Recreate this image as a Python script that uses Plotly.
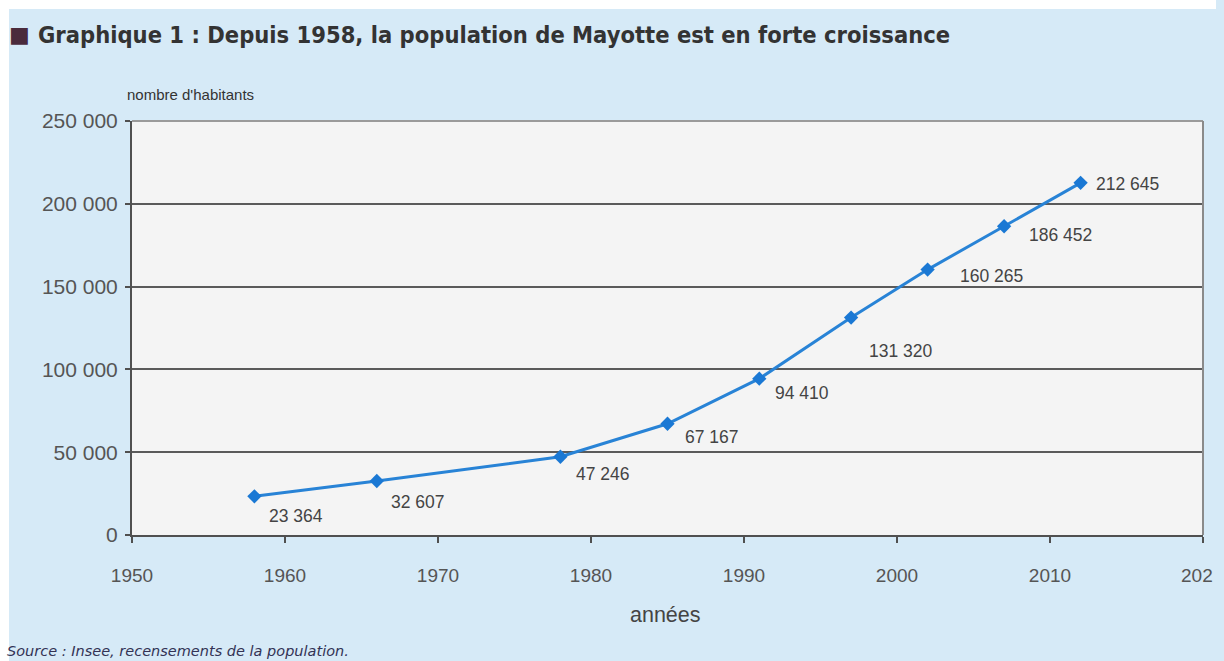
import plotly.graph_objects as go

years = [1958, 1966, 1978, 1985, 1991, 1997, 2002, 2007, 2012]
population = [23364, 32607, 47246, 67167, 94410, 131320, 160265, 186452, 212645]
labels = ["23 364", "32 607", "47 246", "67 167", "94 410", "131 320", "160 265", "186 452", "212 645"]
label_dx = [13, 12, 14, 15, 14, 16, 30, 23, 13]
label_dy = [-20, -21, -17, -13, -14, -33, -6, -9, -1]

y_ticks = [0, 50000, 100000, 150000, 200000, 250000]
y_ticklabels = ["0", "50 000", "100 000", "150 000", "200 000", "250 000"]
x_ticks = [1950, 1960, 1970, 1980, 1990, 2000, 2010, 2020]
x_ticklabels = ["1950", "1960", "1970", "1980", "1990", "2000", "2010", ""]
x_last_label = "202"  # last tick label, cut at the right edge in the source image

BG = "#d6eaf7"
W, H = 1216, 661
L, R, T, B = 132, 1216 - 1203, 121, 661 - 535
pw, ph = W - L - R, H - T - B


def px(xpage):
    return (xpage - L) / pw


def py(ypage):
    return 1 - (ypage - T) / ph


fig = go.Figure()
fig.add_trace(go.Scatter(
    x=years, y=population, mode="lines+markers",
    line=dict(color="#2883d6", width=3),
    marker=dict(symbol="diamond", size=11, color="#1a78d4"),
    hoverinfo="skip", showlegend=False,
))

for xv, yv, t, dx, dy in zip(years, population, labels, label_dx, label_dy):
    fig.add_annotation(x=xv, y=yv, text=t, showarrow=False, xanchor="left", yanchor="middle",
                       xshift=dx, yshift=dy, font=dict(family="Liberation Sans", size=17.5, color="#444444"))

font_main = "Liberation Sans"
fig.update_layout(
    width=W, height=H,
    margin=dict(l=L, r=R, t=T, b=B),
    paper_bgcolor=BG,
    plot_bgcolor="#f4f4f4",
    xaxis=dict(range=[1950, 2020], tickvals=x_ticks, ticktext=x_ticklabels, showgrid=False,
               zeroline=False, showline=True, linecolor="#505050", linewidth=2,
               ticks="outside", ticklen=6, tickwidth=2, tickcolor="#505050",
               ticklabelstandoff=16,
               tickfont=dict(family=font_main, size=19, color="#555555")),
    yaxis=dict(range=[0, 250000], tickvals=y_ticks, ticktext=y_ticklabels, showgrid=True,
               gridcolor="#5a5a5a", gridwidth=2, zeroline=False, showline=True,
               linecolor="#505050", linewidth=2, ticks="outside", ticklen=5, tickwidth=2,
               tickcolor="#505050", ticklabelstandoff=3,
               tickfont=dict(family=font_main, size=21, color="#555555")),
    shapes=[
        dict(type="line", xref="paper", yref="paper", x0=0, x1=1, y0=1, y1=1,
             line=dict(color="#9a9a9a", width=2), layer="above"),
        dict(type="line", xref="paper", yref="paper", x0=1, x1=1, y0=0, y1=1,
             line=dict(color="#8a8a8a", width=2), layer="above"),
        # white strips at top and left of the page
        dict(type="rect", xref="paper", yref="paper", x0=px(0), x1=px(W),
             y0=py(9), y1=py(0), fillcolor="white", line=dict(width=0), layer="below"),
        dict(type="rect", xref="paper", yref="paper", x0=px(0), x1=px(9),
             y0=py(H), y1=py(0), fillcolor="white", line=dict(width=0), layer="below"),
    ],
    annotations=list(fig.layout.annotations) + [
        dict(text=x_last_label, xref="x", yref="paper", x=x_ticks[-1], y=py(575),
             xanchor="right", yanchor="middle", xshift=12, showarrow=False,
             font=dict(family=font_main, size=19, color="#555555")),
        dict(text="<b>■</b>", xref="paper", yref="paper", x=px(7), y=py(35),
             xanchor="left", yanchor="middle", showarrow=False,
             font=dict(family="DejaVu Sans", size=22, color="#4a2b3c")),
        dict(text="<b>Graphique 1 : Depuis 1958, la population de Mayotte est en forte croissance</b>",
             xref="paper", yref="paper", x=px(36), y=py(35),
             xanchor="left", yanchor="middle", showarrow=False,
             font=dict(family="DejaVu Sans Condensed", size=23.5, color="#333333")),
        dict(text="nombre d'habitants", xref="paper", yref="paper", x=px(125), y=py(95),
             xanchor="left", yanchor="middle", showarrow=False,
             font=dict(family=font_main, size=15, color="#333333")),
        dict(text="années", xref="paper", yref="paper", x=px(665), y=py(615),
             xanchor="center", yanchor="middle", showarrow=False,
             font=dict(family=font_main, size=21.5, color="#444444")),
        dict(text="<i>Source : Insee, recensements de la population.</i>", xref="paper", yref="paper",
             x=px(5), y=py(651), xanchor="left", yanchor="middle", showarrow=False,
             font=dict(family="DejaVu Sans", size=14.5, color="#333355")),
    ],
)

fig.write_html(
    "out.html",
    config={"displayModeBar": False},
    post_script=(
        "document.body.style.margin='0';"
        "document.body.style.overflow='hidden';"
        "document.documentElement.style.overflow='hidden';"
        "document.body.style.background='" + BG + "';"
    ),
)
